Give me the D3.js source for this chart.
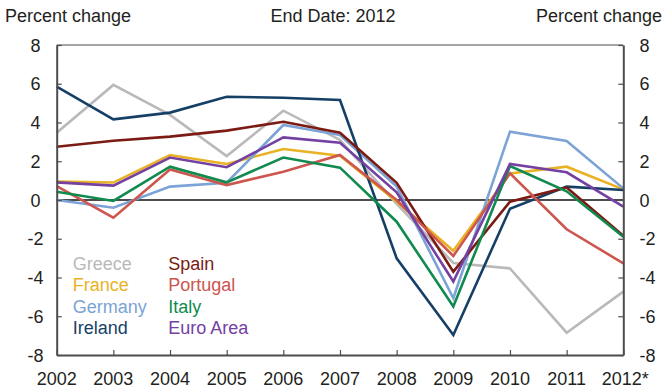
<!DOCTYPE html>
<html><head><meta charset="utf-8">
<script src="https://cdn.jsdelivr.net/npm/d3@7"></script>
<style>body{margin:0;background:#fff}svg{display:block}text{font-family:"Liberation Sans",Arial,sans-serif;fill:#231f20}</style>
</head><body><svg id="c" width="666" height="388"></svg>
<script>
const years = ["2002","2003","2004","2005","2006","2007","2008","2009","2010","2011","2012"];
const yearLabels = ["2002","2003","2004","2005","2006","2007","2008","2009","2010","2011","2012*"];
const yTicks = [-8,-6,-4,-2,0,2,4,6,8];
const countries = ["Greece","France","Germany","Ireland","Spain","Portugal","Italy","Euro Area"];
const colors = ["#b9b9b9","#e9b124","#7ba3d6","#163f66","#7b1b14","#cd564f","#108a4e","#7441a2"];
const greece   = [3.47, 5.94, 4.39, 2.27, 4.61, 3.1, -0.2, -3.25, -3.53, -6.85, -4.73];
const france   = [0.95, 0.9, 2.32, 1.86, 2.63, 2.29, -0.08, -2.62, 1.37, 1.72, 0.55];
const germany  = [0.0, -0.4, 0.69, 0.89, 3.87, 3.35, 0.7, -5.07, 3.53, 3.05, 0.6];
const ireland  = [5.85, 4.16, 4.51, 5.33, 5.28, 5.16, -3.01, -6.97, -0.45, 0.69, 0.52];
const spain    = [2.75, 3.06, 3.27, 3.58, 4.04, 3.47, 0.89, -3.7, -0.09, 0.65, -1.85];
const portugal = [0.72, -0.91, 1.58, 0.77, 1.46, 2.32, 0.0, -2.89, 1.38, -1.51, -3.27];
const italy    = [0.43, -0.05, 1.72, 0.91, 2.19, 1.67, -1.12, -5.5, 1.75, 0.45, -1.9];
const euroArea = [0.91, 0.74, 2.19, 1.69, 3.23, 2.96, 0.4, -4.21, 1.86, 1.43, -0.34];
const seriesValues = [greece, france, germany, ireland, spain, portugal, italy, euroArea];

const svg = d3.select("#c");
const L = 56.7, R = 623.3, T = 45, B = 355;
const x = d3.scalePoint().domain(years).range([L, R]);
const y = d3.scaleLinear().domain([-8, 8]).range([B, T]);
const fs = 18;

// titles
svg.append("text").attr("x", 5).attr("y", 22).attr("font-size", fs).text("Percent change");
svg.append("text").attr("x", 333).attr("y", 22).attr("font-size", fs).attr("text-anchor", "middle").text("End Date: 2012");
svg.append("text").attr("x", 662).attr("y", 22).attr("font-size", fs).attr("text-anchor", "end").text("Percent change");

// zero line
svg.append("line").attr("x1", L).attr("x2", R).attr("y1", y(0)).attr("y2", y(0))
  .attr("stroke", "#111").attr("stroke-width", 1.3);

// series
const line = d3.line().x((d, i) => x(years[i])).y(d => y(d));
seriesValues.forEach((vals, k) => {
  svg.append("path").datum(vals).attr("d", line).attr("fill", "none")
    .attr("stroke", colors[k]).attr("stroke-width", 2.6).attr("stroke-linejoin", "miter");
});

// frame
const axisColor = "#4d4d4d";
svg.append("line").attr("x1", L).attr("x2", R).attr("y1", T).attr("y2", T).attr("stroke", axisColor).attr("stroke-width", 1);

const left = svg.append("g").attr("transform", `translate(${L},0)`)
  .call(d3.axisLeft(y).tickValues(yTicks).tickSizeInner(-5).tickSizeOuter(0).tickPadding(0).tickFormat(""));
const right = svg.append("g").attr("transform", `translate(${R},0)`)
  .call(d3.axisRight(y).tickValues(yTicks).tickSizeInner(-5).tickSizeOuter(0).tickFormat(""));
const bottom = svg.append("g").attr("transform", `translate(0,${B})`)
  .call(d3.axisBottom(x).tickSizeInner(-5).tickSizeOuter(0).tickFormat(""));
[left, right, bottom].forEach(g => {
  g.select(".domain").attr("stroke", axisColor).attr("stroke-width", 2);
  g.selectAll(".tick line").attr("stroke", axisColor).attr("stroke-width", 1.2);
});

// tick labels
yTicks.forEach(v => {
  svg.append("text").attr("x", 35.5).attr("y", y(v) + 6.5).attr("font-size", fs)
    .attr("text-anchor", "middle").text(v);
  svg.append("text").attr("x", 639.5).attr("y", y(v) + 6.5).attr("font-size", fs)
    .attr("text-anchor", "start").text(v);
});
years.forEach((yr, i) => {
  svg.append("text").attr("x", x(yr) + (i === years.length - 1 ? 2 : 0)).attr("y", 385)
    .attr("font-size", fs).attr("text-anchor", "middle").text(yearLabels[i]);
});

// legend
const legX = [72.7, 168.3], legY = [269.5, 291, 312.5, 334];
countries.forEach((c, k) => {
  const col = Math.floor(k / 4), row = k % 4;
  svg.append("text").attr("x", legX[col]).attr("y", legY[row]).attr("font-size", fs)
    .style("fill", colors[k]).text(c);
});
</script></body></html>
